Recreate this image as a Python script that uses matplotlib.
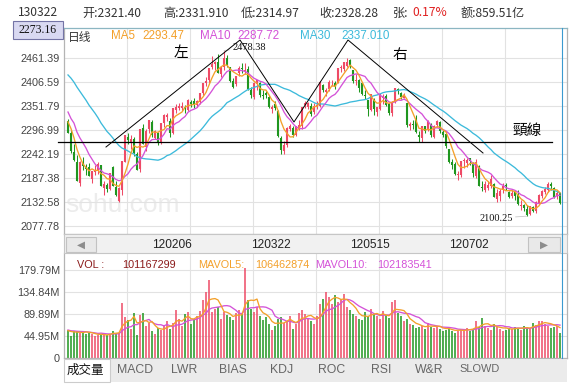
import numpy as np
import pandas as pd
import matplotlib
matplotlib.use('Agg')
import matplotlib.pyplot as plt
from matplotlib.patches import Rectangle

W, H = 583, 390

# closes before the visible range, only used to warm up the moving averages
prior_close = [2470, 2505, 2519, 2528, 2509, 2503, 2528, 2480, 2482, 2529, 2530,
               2467, 2447, 2416, 2416, 2420, 2395, 2397, 2380, 2380, 2398, 2333,
               2386, 2360, 2325, 2326, 2334, 2311, 2316]
prior_vol = [60, 58, 62, 55, 57, 53, 60, 56, 54]

opens = [2316, 2290, 2246, 2224, 2177, 2220, 2212, 2211, 2185, 2200,
         2206, 2216, 2165, 2171, 2162, 2213, 2166, 2134, 2161, 2225,
         2280, 2268, 2276, 2241, 2207, 2300, 2258, 2299, 2315, 2279,
         2290, 2270, 2313, 2327, 2318, 2290, 2343, 2347, 2348, 2350,
         2342, 2360, 2362, 2355, 2360, 2381, 2404, 2411, 2440, 2447,
         2452, 2425, 2441, 2460, 2440, 2408, 2401, 2427, 2437, 2432,
         2436, 2388, 2372, 2401, 2404, 2376, 2380, 2372, 2344, 2355,
         2340, 2278, 2250, 2263, 2300, 2300, 2286, 2300, 2306, 2353,
         2350, 2352, 2337, 2352, 2352, 2400, 2383, 2391, 2404, 2404,
         2404, 2438, 2437, 2444, 2456, 2434, 2408, 2410, 2403, 2377,
         2364, 2343, 2366, 2339, 2345, 2370, 2374, 2355, 2335, 2361,
         2390, 2382, 2371, 2357, 2305, 2311, 2320, 2285, 2278, 2306,
         2298, 2310, 2282, 2308, 2315, 2292, 2287, 2253, 2223, 2218,
         2194, 2194, 2226, 2222, 2232, 2219, 2193, 2215, 2167, 2160,
         2165, 2168, 2174, 2140, 2147, 2160, 2171, 2155, 2146, 2154,
         2150, 2124, 2126, 2117, 2105, 2120, 2112, 2130, 2147, 2155,
         2160, 2174, 2165, 2146, 2152]
highs = [2323, 2298, 2265, 2240, 2226, 2236, 2219, 2222, 2204, 2217,
         2225, 2218, 2180, 2177, 2199, 2214, 2181, 2166, 2225, 2285,
         2290, 2285, 2281, 2246, 2298, 2310, 2300, 2320, 2319, 2297,
         2292, 2313, 2333, 2336, 2324, 2347, 2356, 2359, 2362, 2353,
         2367, 2366, 2371, 2366, 2382, 2404, 2418, 2439, 2465, 2454,
         2470, 2443, 2478.38, 2468, 2441, 2416, 2421, 2442, 2449, 2451,
         2444, 2395, 2407, 2412, 2406, 2388, 2387, 2378, 2355, 2364,
         2342, 2283, 2272, 2303, 2310, 2305, 2306, 2320, 2350, 2364,
         2362, 2358, 2358, 2363, 2408, 2403, 2394, 2411, 2412, 2410,
         2438, 2445, 2453, 2461, 2460, 2435, 2424, 2413, 2406, 2389,
         2366, 2380, 2370, 2350, 2380, 2379, 2380, 2358, 2364, 2394,
         2394, 2384, 2381, 2358, 2315, 2320, 2331, 2294, 2306, 2307,
         2320, 2312, 2308, 2320, 2317, 2297, 2293, 2254, 2231, 2225,
         2203, 2226, 2234, 2233, 2233, 2223, 2230, 2216, 2180, 2180,
         2180, 2195, 2176, 2162, 2163, 2175, 2177, 2158, 2160, 2157,
         2161, 2138, 2127, 2126, 2124, 2124, 2134, 2150, 2160, 2166,
         2179, 2178, 2166, 2158, 2153]
lows = [2289, 2245, 2226, 2180, 2170, 2206, 2195, 2191, 2175, 2194,
        2196, 2168, 2149, 2155, 2161, 2168, 2146, 2132, 2148, 2225,
        2265, 2254, 2238, 2205, 2200, 2266, 2250, 2290, 2281, 2276,
        2262, 2265, 2304, 2317, 2281, 2287, 2335, 2343, 2341, 2335,
        2340, 2350, 2348, 2350, 2356, 2376, 2398, 2404, 2436, 2434,
        2426, 2417, 2435, 2440, 2406, 2394, 2398, 2420, 2426, 2425,
        2388, 2371, 2367, 2389, 2373, 2368, 2369, 2347, 2336, 2343,
        2281, 2242, 2243, 2258, 2295, 2280, 2283, 2297, 2300, 2347,
        2346, 2330, 2334, 2345, 2350, 2383, 2374, 2386, 2398, 2390,
        2404, 2430, 2432, 2441, 2438, 2404, 2400, 2383, 2378, 2367,
        2330, 2340, 2332, 2328, 2342, 2357, 2352, 2331, 2330, 2358,
        2380, 2367, 2369, 2304, 2298, 2300, 2290, 2270, 2270, 2289,
        2294, 2280, 2279, 2303, 2290, 2280, 2257, 2222, 2208, 2195,
        2182, 2189, 2211, 2212, 2216, 2189, 2188, 2168, 2157, 2156,
        2160, 2164, 2144, 2132, 2134, 2152, 2160, 2141, 2141, 2138,
        2126, 2115, 2112, 2100.25, 2103, 2110, 2108, 2128, 2142, 2150,
        2156, 2160, 2142, 2140, 2128]
closes = [2291, 2249, 2228, 2181, 2224, 2215, 2208, 2191, 2203, 2205,
          2218, 2170, 2173, 2163, 2199, 2169, 2148, 2163, 2225, 2285,
          2275, 2276, 2244, 2206, 2298, 2266, 2295, 2319, 2285, 2293,
          2268, 2313, 2331, 2330, 2291, 2347, 2349, 2352, 2351, 2345,
          2366, 2357, 2357, 2363, 2381, 2404, 2409, 2439, 2447, 2451,
          2428, 2441, 2460, 2445, 2410, 2395, 2420, 2439, 2436, 2434,
          2391, 2378, 2404, 2410, 2376, 2375, 2376, 2349, 2350, 2347,
          2284, 2252, 2262, 2302, 2306, 2285, 2305, 2308, 2350, 2359,
          2357, 2334, 2352, 2353, 2406, 2388, 2388, 2406, 2404, 2396,
          2438, 2440, 2452, 2451, 2446, 2408, 2410, 2394, 2380, 2374,
          2346, 2379, 2344, 2348, 2378, 2373, 2355, 2335, 2361, 2392,
          2389, 2372, 2373, 2309, 2311, 2309, 2293, 2281, 2306, 2295,
          2318, 2285, 2306, 2317, 2294, 2285, 2260, 2224, 2216, 2196,
          2195, 2225, 2227, 2229, 2227, 2199, 2223, 2170, 2164, 2172,
          2170, 2185, 2145, 2153, 2158, 2168, 2168, 2145, 2153, 2147,
          2128, 2126, 2120, 2103, 2123, 2113, 2132, 2148, 2156, 2162,
          2174, 2168, 2145, 2152, 2130]
# volume in millions
volumes = [57, 44, 55, 55, 52, 54, 50, 52, 50, 44,
           46, 50, 48, 47, 50, 56, 52, 52, 112, 84,
           78, 60, 91, 46, 88, 91, 66, 72, 55, 50,
           62, 58, 68, 76, 60, 72, 98, 80, 66, 90,
           95, 70, 78, 85, 96, 118, 135, 159, 95, 100,
           104, 80, 95, 88, 84, 77, 92, 98, 90, 184,
           119, 100, 95, 104, 85, 78, 84, 70, 57, 65,
           80, 84, 72, 75, 85, 60, 70, 92, 98, 90,
           80, 75, 70, 85, 110, 121, 135, 125, 110, 128,
           115, 120, 130, 104, 98, 90, 86, 80, 78, 95,
           85, 100, 90, 85, 80, 96, 88, 82, 114, 118,
           92, 85, 75, 80, 70, 68, 62, 64, 66, 60,
           72, 64, 62, 66, 60, 55, 58, 62, 56, 52,
           55, 60, 58, 62, 55, 60, 76, 64, 82, 66,
           62, 58, 70, 64, 60, 55, 58, 62, 60, 64,
           60, 58, 66, 62, 60, 72, 68, 76, 76, 70,
           66, 62, 64, 66, 52]

price_ticks = [2077.78, 2132.58, 2187.38, 2242.19, 2296.99, 2351.79, 2406.59, 2461.39]
vol_ticks = [0, 44.95, 89.89, 134.84, 179.79]
vol_tick_labels = ['0', '44.95M', '89.89M', '134.84M', '179.79M']
date_labels = ['120206', '120322', '120515', '120702']
date_index = [33, 66, 99, 132]
tab_names = ['成交量', 'MACD', 'LWR', 'BIAS', 'KDJ', 'ROC', 'RSI', 'W&R', 'SLOWD']

RED = '#ee4a66'
GREEN = '#1f961f'
ORANGE = '#f3a02a'
MAGENTA = '#d452d8'
CYAN = '#3cbadb'
CJK = ['Noto Sans CJK SC', 'DejaVu Sans']
SANS = ['Liberation Sans', 'DejaVu Sans']
SERIF = ['Liberation Serif', 'DejaVu Serif']


def box(x0, y0, x1, y1):
    return [x0 / W, 1 - y1 / H, (x1 - x0) / W, (y1 - y0) / H]


n = len(closes)
x = np.arange(n)
o = np.array(opens, float)
c = np.array(closes, float)
hi = np.array(highs, float)
lo = np.array(lows, float)
vol = np.array(volumes, float)
cols = np.where(c >= o, RED, GREEN)

full_c = pd.Series(prior_close + closes, dtype=float)
ma5 = full_c.rolling(5).mean().values[len(prior_close):]
ma10 = full_c.rolling(10).mean().values[len(prior_close):]
ma30 = full_c.rolling(30).mean().values[len(prior_close):]
full_v = pd.Series(prior_vol + volumes, dtype=float)
mv5 = full_v.rolling(5).mean().values[len(prior_vol):]
mv10 = full_v.rolling(10).mean().values[len(prior_vol):]

fig = plt.figure(figsize=(W / 100, H / 100), dpi=100)
fig.patch.set_facecolor('white')

xlo = -4 / 3
xhi = xlo + 503 / 3
grid_x = [19.67 + 21 * k for k in range(7)]

# ---- price panel
ax = fig.add_axes(box(64, 28, 567, 234))
ppx = (price_ticks[-1] - price_ticks[0]) / 168.0
ax.set_xlim(xlo, xhi)
ax.set_ylim(price_ticks[0] - 8 * ppx, price_ticks[-1] + 30 * ppx)
ax.set_yticks(price_ticks, [f'{v:.2f}' for v in price_ticks])
ax.set_xticks(grid_x, [])
ax.tick_params(length=0, pad=3)
for lab in ax.get_yticklabels():
    lab.set_fontfamily(SANS)
    lab.set_fontsize(7.8)
    lab.set_color('#444444')
ax.grid(True, color='#e2e2e2', lw=0.8)
ax.set_axisbelow(True)
for s in ax.spines.values():
    s.set_color('#b4b4b4')
    s.set_linewidth(0.9)
ax.spines['top'].set_color('#8cb6c2')

ax.vlines(x, lo, hi, colors=cols, lw=0.75, zorder=2)
ax.vlines(x, np.minimum(o, c), np.maximum(o, c) + 0.6, colors=cols, lw=1.5, zorder=2)
ax.plot(x, ma30, color=CYAN, lw=0.95, zorder=3)
ax.plot(x, ma10, color=MAGENTA, lw=0.95, zorder=3)
ax.plot(x, ma5, color=ORANGE, lw=0.95, zorder=3)

imax = int(np.argmax(hi))
imin = int(np.argmin(lo))
ax.annotate(f'{hi[imax]:.2f}', xy=(imax, hi[imax]), xytext=(25, 3),
            textcoords='offset pixels', ha='center', va='center',
            fontsize=7.5, family=SERIF, color='#111111', zorder=5,
            arrowprops=dict(arrowstyle='-', color='#c8c8c8', lw=0.6,
                            shrinkA=0, shrinkB=0))
ax.annotate(f'{lo[imin]:.2f}', xy=(imin, lo[imin]), xytext=(-31, -2),
            textcoords='offset pixels', ha='center', va='center',
            fontsize=7.5, family=SERIF, color='#111111', zorder=5,
            arrowprops=dict(arrowstyle='-', color='#c8c8c8', lw=0.6,
                            shrinkA=0, shrinkB=0))

# ---- volume panel
axv = fig.add_axes(box(64, 253, 567, 358))
vpx = vol_ticks[-1] / 88.0
axv.set_xlim(xlo, xhi)
axv.set_ylim(0, 105 * vpx)
axv.set_yticks(vol_ticks, vol_tick_labels)
axv.set_xticks(grid_x, [])
axv.tick_params(length=0, pad=3)
for lab in axv.get_yticklabels():
    lab.set_fontfamily(SANS)
    lab.set_fontsize(7.8)
    lab.set_color('#444444')
axv.grid(True, color='#e2e2e2', lw=0.8)
axv.set_axisbelow(True)
for s in axv.spines.values():
    s.set_color('#b4b4b4')
    s.set_linewidth(0.9)
axv.spines['top'].set_visible(False)
axv.vlines(x, 0, vol, colors=cols, lw=1.1, zorder=2)
axv.plot(x, mv10, color=MAGENTA, lw=0.95, zorder=3)
axv.plot(x, mv5, color=ORANGE, lw=0.95, zorder=3)

# ---- overlay in pixel coordinates
ov = fig.add_axes([0, 0, 1, 1], zorder=10)
ov.set_xlim(0, W)
ov.set_ylim(H, 0)
ov.axis('off')
ov.patch.set_alpha(0)

ax.text(65, 205, 'sohu.com', transform=ov.transData, fontsize=19, family=SANS,
        color='#ececec', va='center', ha='left', zorder=0.5)

# header
hdr = [(18, '130322', '#333333'), (82, '开:2321.40', '#333333'),
       (163, '高:2331.910', '#333333'), (241, '低:2314.97', '#333333'),
       (319, '收:2328.28', '#333333'), (393, '张:', '#333333'),
       (412, '0.17%', '#e02020'), (461, '额:859.51亿', '#333333')]
for hx, t, col in hdr:
    ov.text(hx, 13, t, fontsize=8.7, family=CJK, color=col, va='center', ha='left')

ov.add_patch(Rectangle((13, 21), 50, 18, facecolor='#d9d9f2', edgecolor='#7474a6', lw=0.8))
ov.text(38, 30, '2273.16', fontsize=8.5, family=SERIF, color='#111111',
        ha='center', va='center')

# MA legend
ov.text(68, 37, '日线', fontsize=8.5, family=CJK, color='#333333', va='center')
leg = [(111, 'MA5', ORANGE), (142, '2293.47', ORANGE), (200, 'MA10', MAGENTA),
       (237, '2287.72', MAGENTA), (300, 'MA30', CYAN), (341, '2337.010', CYAN)]
for lx, t, col in leg:
    ov.text(lx, 36, t, fontsize=8.4, family=SANS, color=col, va='center')

# double-top sketch
ov.plot([106, 240, 294, 348, 483], [147, 40, 122, 40, 153], color='black', lw=0.7)
ov.plot([58, 552], [142, 142], color='black', lw=0.9)
ov.text(181, 53, '左', fontsize=10.5, family=['Noto Sans CJK TC'], ha='center', va='center')
ov.text(400, 55, '右', fontsize=10.5, family=['Noto Sans CJK TC'], ha='center', va='center')
ov.text(527, 131, '頸線', fontsize=10.5, family=['Noto Sans CJK TC'], ha='center', va='center')

# scroll bar
ov.add_patch(Rectangle((64, 234), 503, 19, facecolor='#f1f1f1', edgecolor='#c6c6c6', lw=0.8))
ov.add_patch(Rectangle((66, 237), 30, 15, facecolor='#e9e9e9', edgecolor='#c2c2c2', lw=0.8))
ov.add_patch(Rectangle((528, 237), 32, 15, facecolor='#e9e9e9', edgecolor='#c2c2c2', lw=0.8))
ov.text(81, 244.5, '◀', fontsize=7.5, color='#8c8c8c', ha='center', va='center')
ov.text(544, 244.5, '▶', fontsize=7.5, color='#8c8c8c', ha='center', va='center')
for di, dl in zip(date_index, date_labels):
    px = 68 + 3 * di + 5
    ov.text(px, 245, dl, fontsize=8.6, family=SANS, color='#222222', ha='center', va='center')

# volume legend
vleg = [(77, 'VOL :', '#8b1a1a'), (122, '101167299', '#8b1a1a'),
        (198, 'MAVOL5:', ORANGE), (255, '106462874', ORANGE),
        (315, 'MAVOL10:', MAGENTA), (377, '102183541', MAGENTA)]
for lx, t, col in vleg:
    ov.text(lx, 265, t, fontsize=7.8, family=SANS, color=col, va='center')

# crosshair
ov.plot([562, 562], [28, 358], color='#3a9ad0', lw=0.8)

# tabs
ov.add_patch(Rectangle((64, 359), 503, 23, facecolor='#ebebeb', edgecolor='none'))
ov.add_patch(Rectangle((64, 359), 46, 23, facecolor='white', edgecolor='#cccccc', lw=0.8))
tab_x = [85.5, 135, 184, 233, 281.5, 331.5, 381, 429, 480]
for tx, name in zip(tab_x, tab_names):
    if name == '成交量':
        ov.text(tx, 370, name, fontsize=9, family=CJK, color='#111111', ha='center', va='center')
    elif name == 'SLOWD':
        ov.text(tx, 369, name, fontsize=7.9, family=SANS, color='#666666', ha='center', va='center')
    else:
        ov.text(tx, 370, name, fontsize=8.8, family=SANS, color='#666666', ha='center', va='center')

fig.savefig('out.png', dpi=100)
